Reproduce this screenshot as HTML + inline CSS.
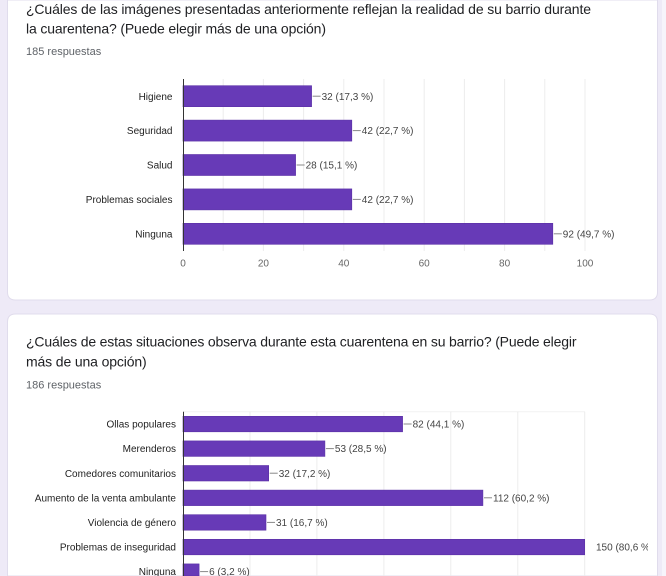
<!DOCTYPE html>
<html>
<head>
<meta charset="utf-8">
<style>
html,body{margin:0;padding:0;}
body{width:666px;height:576px;overflow:hidden;background:#eeeaf7;}
svg{display:block;}
text{font-family:"Liberation Sans",Arial,sans-serif;}
</style>
</head>
<body>
<svg width="666" height="576" viewBox="0 0 666 576" xmlns="http://www.w3.org/2000/svg">
  <rect x="0" y="0" width="666" height="576" fill="#eeeaf7"/>
  <rect x="662" y="0" width="4" height="576" fill="#f6f4fb"/>

  <!-- Card 1 (top cut off) -->
  <path d="M7.5 0 L7.5 292 Q7.5 300 15.5 300 L649.5 300 Q657.5 300 657.5 292 L657.5 0 Z" fill="#ffffff" stroke="#e0dcec" stroke-width="1"/>
  <text x="26" y="14" font-size="14" fill="#202124" textLength="565" lengthAdjust="spacing">¿Cuáles de las imágenes presentadas anteriormente reflejan la realidad de su barrio durante</text>
  <text x="26" y="33.5" font-size="14" fill="#202124" textLength="300" lengthAdjust="spacing">la cuarentena? (Puede elegir más de una opción)</text>
  <text x="26" y="55" font-size="11" fill="#5f6368">185 respuestas</text>

  <!-- Chart 1 grid -->
  <g stroke="#ececec" stroke-width="1">
    <line x1="223.2" y1="79" x2="223.2" y2="251"/>
    <line x1="263.4" y1="79" x2="263.4" y2="251"/>
    <line x1="303.6" y1="79" x2="303.6" y2="251"/>
    <line x1="343.8" y1="79" x2="343.8" y2="251"/>
    <line x1="384" y1="79" x2="384" y2="251"/>
    <line x1="424.2" y1="79" x2="424.2" y2="251"/>
    <line x1="464.4" y1="79" x2="464.4" y2="251"/>
    <line x1="504.6" y1="79" x2="504.6" y2="251"/>
    <line x1="544.8" y1="79" x2="544.8" y2="251"/>
    <line x1="585" y1="79" x2="585" y2="251"/>
  </g>
  <!-- Chart 1 bars -->
  <g fill="#673ab7" stroke="#5b30a6" stroke-width="0.6">
    <rect x="183" y="85.7" width="128.6" height="21"/>
    <rect x="183" y="120.1" width="168.8" height="21"/>
    <rect x="183" y="154.5" width="112.6" height="21"/>
    <rect x="183" y="188.9" width="168.8" height="21"/>
    <rect x="183" y="223.3" width="369.8" height="21"/>
  </g>
  <line x1="183.5" y1="79" x2="183.5" y2="251" stroke="#333" stroke-width="1"/>
  <!-- Chart 1 category labels -->
  <g font-size="10" fill="#222" text-anchor="end">
    <text x="172.5" y="99.8">Higiene</text>
    <text x="172.5" y="134.2">Seguridad</text>
    <text x="172.5" y="168.6">Salud</text>
    <text x="172.5" y="203">Problemas sociales</text>
    <text x="172.5" y="237.4">Ninguna</text>
  </g>
  <!-- Chart 1 value labels -->
  <g stroke="#888" stroke-width="1">
    <line x1="312.6" y1="96.2" x2="320.6" y2="96.2"/>
    <line x1="352.8" y1="130.6" x2="360.8" y2="130.6"/>
    <line x1="296.6" y1="165" x2="304.6" y2="165"/>
    <line x1="352.8" y1="199.4" x2="360.8" y2="199.4"/>
    <line x1="553.8" y1="233.8" x2="561.8" y2="233.8"/>
  </g>
  <g font-size="10" fill="#444">
    <text x="321.6" y="99.8">32 (17,3 %)</text>
    <text x="361.8" y="134.2">42 (22,7 %)</text>
    <text x="305.6" y="168.6">28 (15,1 %)</text>
    <text x="361.8" y="203">42 (22,7 %)</text>
    <text x="562.8" y="237.4">92 (49,7 %)</text>
  </g>
  <!-- Chart 1 ticks -->
  <g font-size="10" fill="#666" text-anchor="middle">
    <text x="183" y="266.5">0</text>
    <text x="263.4" y="266.5">20</text>
    <text x="343.8" y="266.5">40</text>
    <text x="424.2" y="266.5">60</text>
    <text x="504.6" y="266.5">80</text>
    <text x="585" y="266.5">100</text>
  </g>

  <!-- Card 2 (bottom cut off) -->
  <path d="M7.5 576 L7.5 322 Q7.5 314 15.5 314 L649.5 314 Q657.5 314 657.5 322 L657.5 576 Z" fill="#ffffff" stroke="#e0dcec" stroke-width="1"/>
  <text x="26" y="346.7" font-size="14" fill="#202124" textLength="550.5" lengthAdjust="spacing">¿Cuáles de estas situaciones observa durante esta cuarentena en su barrio? (Puede elegir</text>
  <text x="26" y="366.7" font-size="14" fill="#202124" textLength="120.7" lengthAdjust="spacing">más de una opción)</text>
  <text x="26" y="388.3" font-size="11" fill="#5f6368">186 respuestas</text>

  <!-- Chart 2 grid -->
  <line x1="183" y1="411.7" x2="585" y2="411.7" stroke="#f2f2f2" stroke-width="1"/>
  <g stroke="#ececec" stroke-width="1">
    <line x1="250" y1="411.7" x2="250" y2="576"/>
    <line x1="316.9" y1="411.7" x2="316.9" y2="576"/>
    <line x1="383.9" y1="411.7" x2="383.9" y2="576"/>
    <line x1="450.8" y1="411.7" x2="450.8" y2="576"/>
    <line x1="517.8" y1="411.7" x2="517.8" y2="576"/>
    <line x1="584.7" y1="411.7" x2="584.7" y2="576"/>
  </g>
  <!-- Chart 2 bars -->
  <g fill="#673ab7" stroke="#5b30a6" stroke-width="0.6">
    <rect x="183" y="416.3" width="219.6" height="15.5"/>
    <rect x="183" y="440.9" width="141.9" height="15.5"/>
    <rect x="183" y="465.5" width="85.7" height="15.5"/>
    <rect x="183" y="490.1" width="299.9" height="15.5"/>
    <rect x="183" y="514.7" width="83" height="15.5"/>
    <rect x="183" y="539.3" width="401.7" height="15.5"/>
    <rect x="183" y="563.9" width="16.1" height="12.1"/>
  </g>
  <line x1="183.5" y1="411.7" x2="183.5" y2="576" stroke="#333" stroke-width="1"/>
  <!-- Chart 2 category labels -->
  <g font-size="10" fill="#222" text-anchor="end">
    <text x="176" y="427.6">Ollas populares</text>
    <text x="176" y="452.2">Merenderos</text>
    <text x="176" y="476.8">Comedores comunitarios</text>
    <text x="176" y="501.4">Aumento de la venta ambulante</text>
    <text x="176" y="526">Violencia de género</text>
    <text x="176" y="550.6">Problemas de inseguridad</text>
    <text x="176" y="575">Ninguna</text>
  </g>
  <!-- Chart 2 value labels -->
  <g stroke="#888" stroke-width="1">
    <line x1="403.6" y1="424" x2="411.6" y2="424"/>
    <line x1="325.9" y1="448.6" x2="333.9" y2="448.6"/>
    <line x1="269.7" y1="473.2" x2="277.7" y2="473.2"/>
    <line x1="484" y1="497.8" x2="492" y2="497.8"/>
    <line x1="267" y1="522.4" x2="275" y2="522.4"/>
    <line x1="200.1" y1="571.6" x2="208.1" y2="571.6"/>
  </g>
  <defs>
    <clipPath id="clip150"><rect x="590" y="530" width="58" height="30"/></clipPath>
  </defs>
  <g font-size="10" fill="#444">
    <text x="412.6" y="427.6">82 (44,1 %)</text>
    <text x="334.9" y="452.2">53 (28,5 %)</text>
    <text x="278.7" y="476.8">32 (17,2 %)</text>
    <text x="493" y="501.4">112 (60,2 %)</text>
    <text x="276" y="526">31 (16,7 %)</text>
    <text x="596" y="550.6" clip-path="url(#clip150)">150 (80,6 %)</text>
    <text x="209.1" y="575">6 (3,2 %)</text>
  </g>
</svg>
</body>
</html>
